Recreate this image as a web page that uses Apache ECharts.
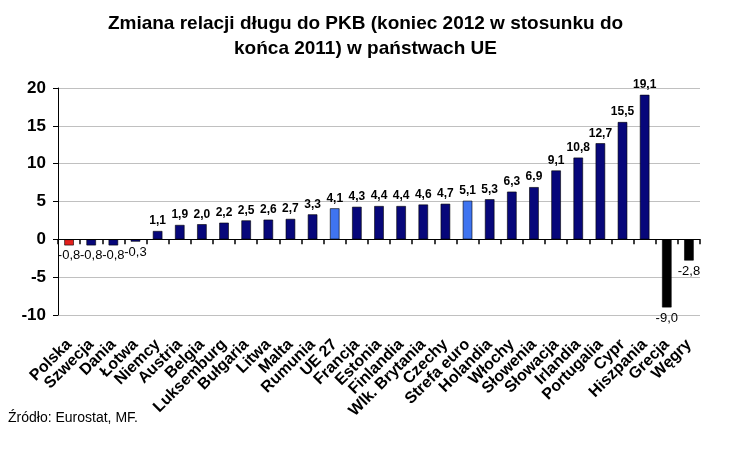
<!DOCTYPE html>
<html><head><meta charset="utf-8">
<script src="https://cdn.jsdelivr.net/npm/echarts@6/dist/echarts.min.js"></script>
<style>html,body{margin:0;padding:0;background:#fff}#c{width:731px;height:452px}</style>
</head><body><div id="c"></div>
<script>
var titleText = 'Zmiana relacji długu do PKB (koniec 2012 w stosunku do\nkońca 2011) w państwach UE';
var sourceText = 'Źródło: Eurostat, MF.';
var categories = ['Polska','Szwecja','Dania','Łotwa','Niemcy','Austria','Belgia','Luksemburg','Bułgaria','Litwa','Malta','Rumunia','UE 27','Francja','Estonia','Finlandia','Wlk. Brytania','Czechy','Strefa euro','Holandia','Włochy','Słowenia','Słowacja','Irlandia','Portugalia','Cypr','Hiszpania','Grecja','Węgry'];
var values = [-0.8,-0.8,-0.8,-0.3,1.1,1.9,2.0,2.2,2.5,2.6,2.7,3.3,4.1,4.3,4.4,4.4,4.6,4.7,5.1,5.3,6.3,6.9,9.1,10.8,12.7,15.5,19.1,-9.0,-2.8];
var redCats = ['Polska'];
var lightCats = ['UE 27','Strefa euro'];
var blackCats = ['Grecja','Węgry'];
var yTicks = [-10,-5,0,5,10,15,20];

function colorFor(c){
  if (redCats.indexOf(c) >= 0) return '#e3201c';
  if (lightCats.indexOf(c) >= 0) return '#3f74f0';
  if (blackCats.indexOf(c) >= 0) return '#000000';
  return '#07077a';
}
var seriesData = values.map(function(v,i){
  return {
    value: v,
    itemStyle: {color: colorFor(categories[i]), borderColor:'#000', borderWidth:0.6},
    label: v < 0 ? {position:'bottom', fontWeight:'normal', fontSize:13} : {position:'top', fontWeight:'bold', fontSize:12}
  };
});

var chart = echarts.init(document.getElementById('c'));
chart.setOption({
  animation:false,
  backgroundColor:'#fff',
  title:{
    text:titleText, left:'center', top:6,
    textStyle:{fontFamily:'Liberation Sans', fontSize:19, fontWeight:'bold', color:'#000', lineHeight:25}
  },
  graphic:[{type:'text', left:8, top:411, style:{text:sourceText, font:'14px "Liberation Sans"', fill:'#000'}}],
  grid:{left:58, right:31, top:88, bottom:137},
  xAxis:[{
    type:'category', data:categories, position:'bottom', z:10,
    axisLine:{onZero:true, lineStyle:{color:'#000', width:1}},
    axisTick:{show:true, inside:false, interval:0, length:5, lineStyle:{color:'#000', width:1.5}},
    axisLabel:{show:false, interval:0},
    splitLine:{show:false}
  },{
    type:'category', data:categories, position:'bottom',
    axisLine:{show:false, onZero:false},
    axisTick:{show:false},
    axisLabel:{show:true, interval:0, rotate:45, margin:27, fontFamily:'Liberation Sans', fontSize:16, fontWeight:'bold', color:'#000'}
  }],
  yAxis:{
    type:'value', min:yTicks[0], max:yTicks[yTicks.length-1], interval:5,
    axisLine:{show:true, lineStyle:{color:'#000'}},
    axisTick:{show:true, length:5, lineStyle:{color:'#000'}},
    axisLabel:{fontFamily:'Liberation Sans', fontSize:17, fontWeight:'bold', color:'#000', margin:12},
    splitLine:{show:true, lineStyle:{color:'#c0c0c0', width:1}}
  },
  series:[{
    type:'bar', xAxisIndex:0, data:seriesData, barWidth:'43%',
    label:{show:true, fontFamily:'Liberation Sans', color:'#000', distance:4,
      formatter:function(p){return p.value.toFixed(1).replace('.', ',');}}
  }]
});
</script></body></html>
